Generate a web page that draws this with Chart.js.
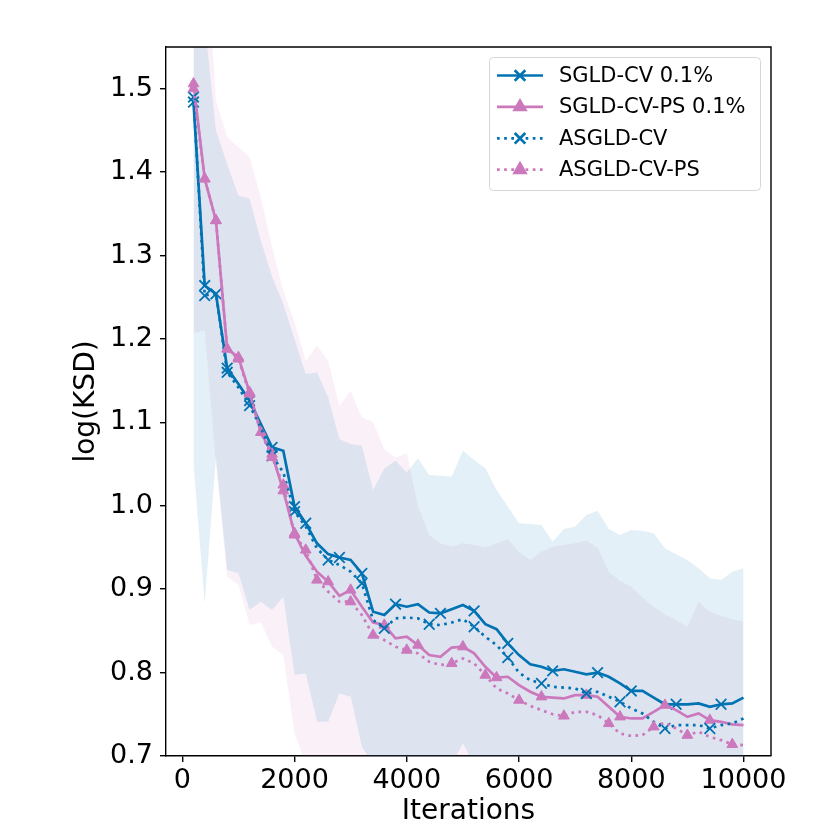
<!DOCTYPE html>
<html>
<head>
<meta charset="utf-8">
<script src="https://cdn.jsdelivr.net/npm/chart.js@4.4.1/dist/chart.umd.min.js"></script>
<style>
  html, body { margin: 0; padding: 0; background: #fff; }
</style>
</head>
<body>
<canvas id="chart" width="830" height="830"></canvas>
<script>
// iterations (x)
const iters = [200, 400, 600, 800, 1000, 1200, 1400, 1600, 1800, 2000,
  2200, 2400, 2600, 2800, 3000, 3200, 3400, 3600, 3800, 4000,
  4200, 4400, 4600, 4800, 5000, 5200, 5400, 5600, 5800, 6000,
  6200, 6400, 6600, 6800, 7000, 7200, 7400, 7600, 7800, 8000,
  8200, 8400, 8600, 8800, 9000, 9200, 9400, 9600, 9800, 10000];

// log(KSD) means
const sgldCv = [1.484, 1.264, 1.254, 1.165, 1.146, 1.126, 1.098, 1.070, 1.066, 0.999,
  0.979, 0.955, 0.942, 0.938, 0.935, 0.919, 0.873, 0.869, 0.882, 0.879,
  0.882, 0.872, 0.871, 0.876, 0.881, 0.874, 0.858, 0.852, 0.835, 0.821,
  0.810, 0.807, 0.802, 0.804, 0.801, 0.798, 0.800, 0.795, 0.787, 0.778,
  0.778, 0.770, 0.762, 0.762, 0.762, 0.763, 0.759, 0.762, 0.763, 0.770];
const sgldCvPs = [1.506, 1.392, 1.342, 1.188, 1.178, 1.136, 1.088, 1.062, 1.018, 0.967,
  0.940, 0.921, 0.909, 0.892, 0.899, 0.879, 0.860, 0.857, 0.841, 0.843,
  0.833, 0.821, 0.819, 0.830, 0.831, 0.823, 0.807, 0.794, 0.795, 0.785,
  0.777, 0.771, 0.770, 0.769, 0.773, 0.773, 0.771, 0.759, 0.747, 0.745,
  0.745, 0.753, 0.761, 0.755, 0.747, 0.751, 0.743, 0.741, 0.738, 0.737];
const asgldCv = [1.490, 1.252, 1.255, 1.160, 1.142, 1.120, 1.094, 1.060, 1.040, 0.993,
  0.975, 0.949, 0.935, 0.929, 0.921, 0.907, 0.863, 0.853, 0.865, 0.866,
  0.865, 0.858, 0.857, 0.860, 0.864, 0.855, 0.843, 0.833, 0.818, 0.800,
  0.791, 0.787, 0.783, 0.782, 0.781, 0.775, 0.777, 0.771, 0.765, 0.757,
  0.751, 0.741, 0.733, 0.737, 0.737, 0.737, 0.733, 0.737, 0.739, 0.745];
const asgldCvPs = [1.500, 1.392, 1.342, 1.188, 1.176, 1.134, 1.088, 1.058, 1.025, 0.965,
  0.947, 0.911, 0.897, 0.885, 0.885, 0.869, 0.845, 0.839, 0.831, 0.827,
  0.823, 0.813, 0.809, 0.811, 0.817, 0.811, 0.797, 0.781, 0.775, 0.767,
  0.760, 0.755, 0.750, 0.748, 0.753, 0.753, 0.749, 0.739, 0.727, 0.724,
  0.725, 0.735, 0.740, 0.733, 0.725, 0.729, 0.723, 0.719, 0.714, 0.713];

// spread bands (blue = SGLD-CV runs, pink = SGLD-CV-PS runs)
const blueUpper = [1.750, 1.580, 1.450, 1.410, 1.372, 1.368, 1.318, 1.275, 1.242, 1.200,
  1.158, 1.160, 1.130, 1.080, 1.074, 1.072, 1.019, 1.045, 1.054, 1.040,
  1.057, 1.037, 1.036, 1.035, 1.066, 1.055, 1.045, 1.019, 0.999, 0.979,
  0.978, 0.977, 0.957, 0.972, 0.975, 0.989, 0.994, 0.972, 0.965, 0.971,
  0.970, 0.967, 0.949, 0.942, 0.935, 0.925, 0.913, 0.911, 0.921, 0.925];
const blueLower = [1.050, 0.883, 1.058, 0.923, 0.919, 0.875, 0.885, 0.875, 0.891, 0.797,
  0.799, 0.741, 0.741, 0.775, 0.771, 0.711, 0.690, 0.670, 0.660, 0.650,
  0.650, 0.660, 0.670, 0.690, 0.715, 0.690, 0.670, 0.660, 0.650, 0.640,
  0.640, 0.645, 0.650, 0.645, 0.640, 0.640, 0.645, 0.640, 0.635, 0.630,
  0.630, 0.635, 0.630, 0.625, 0.625, 0.620, 0.620, 0.625, 0.620, 0.620];
const pinkUpper = [1.750, 1.700, 1.486, 1.442, 1.430, 1.418, 1.370, 1.310, 1.258, 1.220,
  1.174, 1.192, 1.174, 1.120, 1.138, 1.106, 1.100, 1.068, 1.058, 1.063,
  1.000, 0.965, 0.955, 0.951, 0.955, 0.953, 0.950, 0.955, 0.960, 0.945,
  0.935, 0.945, 0.951, 0.953, 0.955, 0.958, 0.950, 0.921, 0.910, 0.903,
  0.890, 0.879, 0.870, 0.863, 0.855, 0.885, 0.873, 0.868, 0.864, 0.861];
const pinkLower = [1.207, 1.210, 1.050, 0.915, 0.905, 0.857, 0.860, 0.831, 0.821, 0.727,
  0.690, 0.680, 0.690, 0.700, 0.690, 0.670, 0.650, 0.640, 0.640, 0.630,
  0.630, 0.625, 0.630, 0.640, 0.650, 0.640, 0.630, 0.620, 0.615, 0.610,
  0.610, 0.605, 0.610, 0.605, 0.600, 0.600, 0.600, 0.595, 0.590, 0.590,
  0.590, 0.595, 0.590, 0.585, 0.585, 0.580, 0.580, 0.580, 0.575, 0.575];

// iterations that carry a marker
const sgldCvMarks = [200, 400, 600, 800, 1200, 1600, 2000, 2200, 2800, 3200, 3800, 4600, 5200, 5800, 6600, 7400, 8000, 8800, 9600];
const sgldCvPsMarks = [200, 400, 600, 800, 1000, 1200, 1400, 1600, 1800, 2000, 2600, 3000, 3600, 4200, 5000, 5600, 6400, 7200, 7800, 8600, 9400];
const asgldCvMarks = [200, 400, 800, 1200, 1600, 2000, 2600, 3200, 3600, 4400, 5200, 5800, 6400, 7200, 7800, 8600, 9400];
const asgldCvPsMarks = [200, 400, 600, 800, 1000, 1200, 1600, 1800, 2000, 2200, 2400, 3000, 3400, 4000, 4800, 5400, 6000, 6800, 7600, 8400, 9000, 9800];

const seriesNames = ["SGLD-CV 0.1%", "SGLD-CV-PS 0.1%", "ASGLD-CV", "ASGLD-CV-PS"];
const xTicks = [0, 2000, 4000, 6000, 8000, 10000];
const yTicks = [0.7, 0.8, 0.9, 1.0, 1.1, 1.2, 1.3, 1.4, 1.5];

const BLUE = "#0173b2";
const PINK = "#cc78bc";
const DOT = [2.7, 4.45];

const toPts = ys => ys.map((y, i) => ({ x: iters[i], y }));

function lineSet(label, ys, marks, color, dotted, style, order) {
  return {
    label,
    data: toPts(ys),
    borderColor: color,
    backgroundColor: color,
    borderWidth: 2.7,
    borderDash: dotted ? DOT : [],
    borderCapStyle: "butt",
    tension: 0,
    fill: false,
    order,
    pointStyle: style,
    pointRadius: c => marks.includes(iters[c.dataIndex]) ? (style === "triangle" ? 6.2 : 7.5) : 0,
    pointHoverRadius: 0,
    pointBorderWidth: style === "triangle" ? 1 : 1.8,
    pointBorderColor: color,
    pointBackgroundColor: color
  };
}

function bandSet(ys, color, fill) {
  return {
    data: toPts(ys),
    borderWidth: 0,
    borderColor: "transparent",
    backgroundColor: color,
    pointRadius: 0,
    fill,
    tension: 0,
    order: 20
  };
}

const legendItems = [
  { color: BLUE, dotted: false, style: "crossRot" },
  { color: PINK, dotted: false, style: "triangle" },
  { color: BLUE, dotted: true, style: "crossRot" },
  { color: PINK, dotted: true, style: "triangle" }
];

// top/right spines
const framePlugin = {
  id: "frame",
  afterDraw(chart) {
    const { ctx, chartArea: a } = chart;
    ctx.save();
    ctx.strokeStyle = "#000";
    ctx.lineWidth = 1.4;
    ctx.beginPath();
    ctx.moveTo(a.left, a.top);
    ctx.lineTo(a.right, a.top);
    ctx.lineTo(a.right, a.bottom);
    ctx.stroke();
    ctx.restore();
  }
};

// matplotlib-like legend box
const legendPlugin = {
  id: "mplLegend",
  afterDraw(chart) {
    const ctx = chart.ctx;
    const bx = 489.5, by = 57.5, bw = 271, bh = 133;
    ctx.save();
    ctx.fillStyle = "rgba(255,255,255,0.8)";
    ctx.strokeStyle = "#d6d6d6";
    ctx.lineWidth = 1;
    ctx.beginPath();
    ctx.roundRect(bx, by, bw, bh, 4);
    ctx.fill();
    ctx.stroke();

    ctx.font = "21px 'DejaVu Sans'";
    ctx.textBaseline = "middle";
    legendItems.forEach((it, i) => {
      const y = 75.5 + i * 31.4;
      ctx.strokeStyle = it.color;
      ctx.fillStyle = it.color;
      ctx.lineWidth = 2.7;
      ctx.setLineDash(it.dotted ? DOT : []);
      ctx.beginPath();
      ctx.moveTo(497, y);
      ctx.lineTo(543, y);
      ctx.stroke();
      ctx.setLineDash([]);
      Chart.helpers.drawPoint(ctx, {
        pointStyle: it.style,
        radius: it.style === "triangle" ? 6.2 : 7.5,
        rotation: 0,
        borderWidth: it.style === "triangle" ? 1 : 1.8
      }, 520, y);
      ctx.fillStyle = "#000";
      ctx.fillText(seriesNames[i], 559, y + 1);
    });
    ctx.restore();
  }
};

Chart.defaults.font.family = "'DejaVu Sans'";
Chart.defaults.color = "#000";

new Chart(document.getElementById("chart"), {
  type: "line",
  data: {
    datasets: [
      bandSet(blueLower, "transparent", false),
      bandSet(blueUpper, "rgba(1,115,178,0.11)", "-1"),
      bandSet(pinkLower, "transparent", false),
      bandSet(pinkUpper, "rgba(204,120,188,0.10)", "-1"),
      lineSet(seriesNames[0], sgldCv, sgldCvMarks, BLUE, false, "crossRot", 4),
      lineSet(seriesNames[1], sgldCvPs, sgldCvPsMarks, PINK, false, "triangle", 3),
      lineSet(seriesNames[2], asgldCv, asgldCvMarks, BLUE, true, "crossRot", 2),
      lineSet(seriesNames[3], asgldCvPs, asgldCvPsMarks, PINK, true, "triangle", 1)
    ]
  },
  options: {
    responsive: false,
    devicePixelRatio: 1,
    animation: false,
    layout: { padding: { top: 47, right: 59, left: 0, bottom: 0 } },
    plugins: {
      legend: { display: false },
      tooltip: { enabled: false },
      filler: { propagate: false }
    },
    scales: {
      x: {
        type: "linear",
        min: -290,
        max: 10490,
        afterBuildTicks: s => { s.ticks = xTicks.map(v => ({ value: v })); },
        afterFit: s => { s.height = 74; },
        ticks: {
          font: { size: 27 },
          color: "#000",
          padding: 3,
          maxRotation: 0,
          callback: v => String(v)
        },
        grid: { drawOnChartArea: false, drawTicks: true, tickLength: 6, color: "#000", lineWidth: 1.4 },
        border: { display: true, color: "#000", width: 1.4 },
        title: { display: true, text: "Iterations", font: { size: 28 }, color: "#000", padding: { top: 1, bottom: 1 } }
      },
      y: {
        type: "linear",
        min: 0.7,
        max: 1.55,
        afterBuildTicks: s => { s.ticks = yTicks.map(v => ({ value: v })); },
        afterFit: s => { s.width = 166; },
        ticks: {
          font: { size: 27 },
          color: "#000",
          padding: 7,
          callback: v => v.toFixed(1)
        },
        grid: { drawOnChartArea: false, drawTicks: true, tickLength: 6, color: "#000", lineWidth: 1.4 },
        border: { display: true, color: "#000", width: 1.4 },
        title: { display: true, text: "log(KSD)", font: { size: 28 }, color: "#000", padding: { top: 70, bottom: 0 } }
      }
    }
  },
  plugins: [framePlugin, legendPlugin]
});
</script>
</body>
</html>
